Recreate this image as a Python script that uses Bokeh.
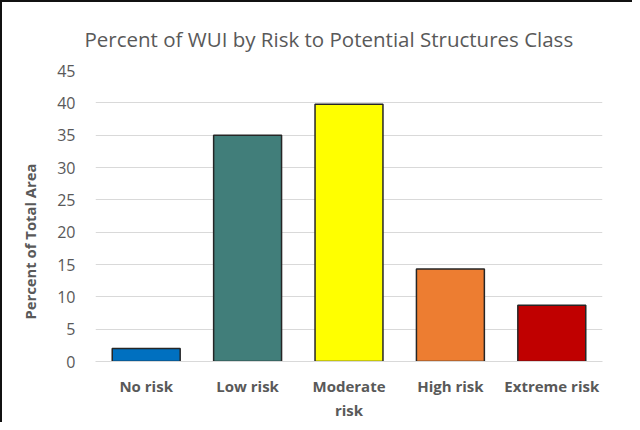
from bokeh.plotting import figure
from bokeh.models import ColumnDataSource, Range1d, SingleIntervalTicker, FixedTicker, Title
from bokeh.embed import file_html
from bokeh.resources import INLINE

categories = ["No risk", "Low risk", "Moderate risk", "High risk", "Extreme risk"]
tick_labels = ["No risk", "Low risk", "Moderate\nrisk", "High risk", "Extreme risk"]
values = [2.0, 35.0, 39.8, 14.3, 8.7]
colors = ["#0070C0", "#417E7A", "#FFFF00", "#ED7D31", "#C00000"]

FONT = "Open Sans"
GRAY = "#595959"

pos = list(range(len(categories)))
src = ColumnDataSource(dict(x=pos, cat=categories, val=values, color=colors))

p = figure(x_range=Range1d(-0.5, len(categories) - 0.5), y_range=Range1d(0, 45),
           width=632, height=422, output_backend="svg", toolbar_location=None,
           min_border_left=93, min_border_right=32, min_border_top=68, min_border_bottom=63)

p.vbar(x="x", top="val", width=0.67, source=src, fill_color="color",
       line_color="#262626", line_width=1.5)

p.title.text = "Percent of WUI by Risk to Potential Structures Class"
p.title.align = "left"
p.title.offset = -11
p.title.text_font = FONT
p.title.text_font_size = "20.5px"
p.title.text_font_style = "normal"
p.title.text_color = GRAY
p.title.standoff = 36

p.outline_line_color = None
p.xgrid.grid_line_color = None
p.ygrid.grid_line_color = "#D9D9D9"
p.ygrid.grid_line_width = 1
p.yaxis.ticker = SingleIntervalTicker(interval=5)

for ax in (p.xaxis[0], p.yaxis[0]):
    ax.major_tick_line_color = None
    ax.minor_tick_line_color = None
    ax.major_label_text_font = FONT
    ax.major_label_text_color = GRAY

p.yaxis.axis_line_color = None
p.yaxis.major_label_text_font_size = "16px"
p.yaxis.major_label_standoff = 14

p.xaxis.ticker = FixedTicker(ticks=pos)
p.xaxis.major_label_overrides = {i: t for i, t in zip(pos, tick_labels)}
p.xaxis.axis_line_color = "#D9D9D9"
p.xaxis.major_label_text_font_size = "15px"
p.xaxis.major_label_text_font_style = "bold"
p.xaxis.major_label_standoff = 8

# y axis title, placed as a side title so it can sit lower like the reference
p.add_layout(Title(text="Percent of Total Area", align="left", offset=42,
                   text_font=FONT, text_font_size="14.8px", text_font_style="bold",
                   text_color=GRAY, standoff=29), "left")

p.styles = {"border-left": "2px solid #111111", "border-top": "2px solid #111111"}

open("out.html", "w").write(file_html(p, INLINE))
